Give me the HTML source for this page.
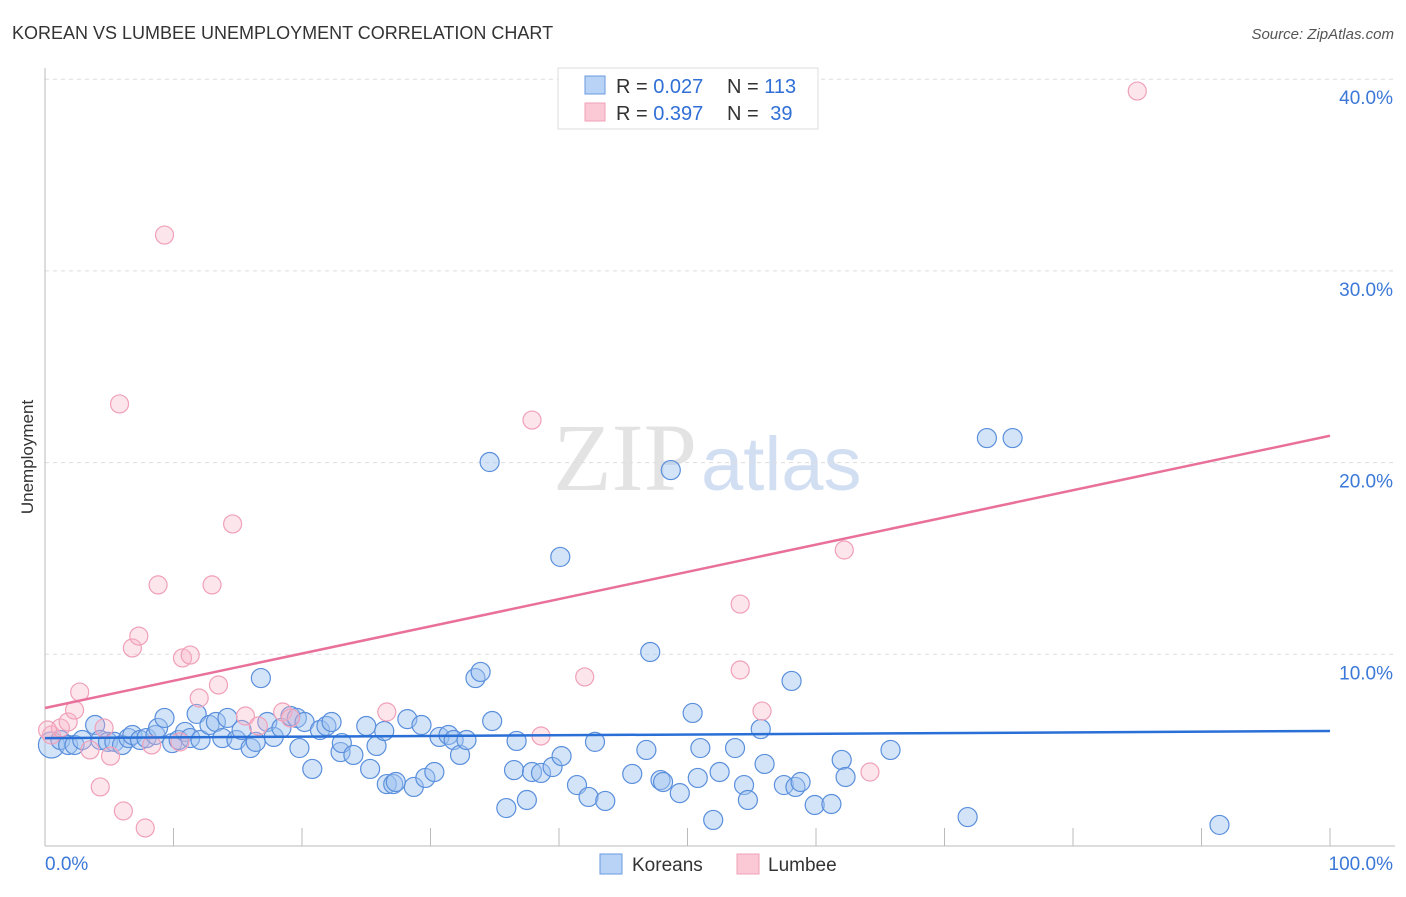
<!DOCTYPE html>
<html><head><meta charset="utf-8"><style>
body{margin:0;background:#fff;font-family:"Liberation Sans",sans-serif;}
svg text{font-family:"Liberation Sans",sans-serif;}
</style></head><body>
<svg id="chart" width="1406" height="892" xmlns="http://www.w3.org/2000/svg">
<text x="12" y="39" font-size="18" fill="#333">KOREAN VS LUMBEE UNEMPLOYMENT CORRELATION CHART</text>
<text x="1394" y="39" font-size="15" fill="#555" text-anchor="end" font-style="italic">Source: ZipAtlas.com</text>
<text transform="translate(33,457) rotate(-90)" font-size="17" fill="#333" text-anchor="middle">Unemployment</text>
<text x="553" y="490" font-size="96" font-family="Liberation Serif" fill="#ddd" opacity="0.8"><tspan font-family="Liberation Serif">ZIP</tspan><tspan fill="#c8d8f0" font-family="Liberation Sans" font-size="76" dx="4">atlas</tspan></text>
<g id="grid"></g><g id="axes"></g><g id="marks"></g>
<g>
<rect x="558" y="68" width="260" height="61" fill="#fff" stroke="#ddd"/>
<rect x="585" y="76" width="20" height="18" fill="#b8d3f5" stroke="#6a9ae0"/>
<rect x="585" y="103" width="20" height="18" fill="#fbc8d6" stroke="#f0a0b8"/>
<text x="616" y="93" font-size="20" fill="#333">R = <tspan fill="#2f6fd6">0.027</tspan></text>
<text x="727" y="93" font-size="20" fill="#333">N = <tspan fill="#2f6fd6">113</tspan></text>
<text x="616" y="120" font-size="20" fill="#333">R = <tspan fill="#2f6fd6">0.397</tspan></text>
<text x="727" y="120" font-size="20" fill="#333">N = <tspan fill="#2f6fd6" dx="6">39</tspan></text>
</g>
<g>
<rect x="600" y="854" width="22" height="20" fill="#b8d3f5" stroke="#6a9ae0"/>
<text x="632" y="871" font-size="19" fill="#333">Koreans</text>
<rect x="737" y="854" width="22" height="20" fill="#fbc8d6" stroke="#f0a0b8"/>
<text x="768" y="871" font-size="19" fill="#333">Lumbee</text>
</g>
</svg>
<script>
const xTicks=[0,10,20,30,40,50,60,70,80,90,100];
const yTicks=[10,20,30,40];
const koreanX=[0.5,1.2,1.8,2.3,2.9,3.9,4.3,4.9,5.4,6.0,6.5,6.8,7.4,7.9,8.6,8.8,9.3,9.9,10.4,10.9,11.3,11.8,12.1,12.8,13.3,13.8,14.2,14.9,15.3,16.0,16.4,16.8,17.3,17.8,18.4,19.1,19.6,19.8,20.2,20.8,21.4,21.9,22.3,23.0,23.1,24.0,25.0,25.3,25.8,26.4,26.6,27.1,27.3,28.2,28.7,29.3,29.6,30.3,30.7,31.4,31.8,32.3,32.8,33.5,33.9,34.8,34.6,35.9,36.5,36.7,37.5,37.9,38.6,39.5,40.1,40.2,41.4,42.3,42.8,43.6,45.7,46.8,47.1,47.9,48.1,49.4,50.4,50.8,51.0,52.0,52.5,53.7,54.4,54.7,55.7,56.0,57.5,58.4,58.8,59.9,61.2,62.0,62.3,65.8,71.8,73.3,75.3,91.4,48.7,58.1];
const koreanY=[5.27,5.53,5.27,5.27,5.53,6.31,5.53,5.43,5.43,5.27,5.63,5.79,5.53,5.63,5.79,6.16,6.68,5.37,5.53,5.95,5.63,6.89,5.53,6.31,6.47,5.63,6.68,5.53,6.05,5.11,5.43,8.76,6.47,5.69,6.16,6.78,6.68,5.11,6.47,4.02,6.05,6.26,6.47,4.90,5.37,4.75,6.26,4.02,5.22,6.00,3.23,3.23,3.34,6.62,3.08,6.31,3.55,3.86,5.69,5.79,5.53,4.75,5.53,8.76,9.08,6.52,20.03,1.98,3.96,5.48,2.40,3.86,3.81,4.12,15.08,4.69,3.18,2.56,5.43,2.35,3.76,5.01,10.12,3.44,3.34,2.76,6.94,3.55,5.11,1.36,3.86,5.11,3.18,2.40,6.10,4.28,3.18,3.08,3.34,2.14,2.19,4.49,3.60,5.01,1.51,21.28,21.28,1.10,19.61,8.61];
const lumbeeX=[0.5,1.2,1.8,2.3,2.7,3.5,4.3,4.6,5.1,5.8,6.1,6.8,7.3,7.8,8.3,8.8,9.3,10.5,10.7,11.3,12.0,13.0,13.5,14.6,15.6,16.6,18.5,19.1,26.6,38.6,37.9,42.0,54.1,54.1,55.8,62.2,64.2,85.0,0.2];
const lumbeeY=[5.79,6.16,6.47,7.09,8.03,5.01,3.08,6.16,4.69,23.06,1.83,10.33,10.95,0.94,5.27,13.62,31.87,5.43,9.81,9.96,7.72,13.62,8.40,16.80,6.78,6.26,6.99,6.68,6.99,5.74,22.22,8.82,12.62,9.18,7.04,15.44,3.86,39.38,6.05];
const koreanTrend=[5.63,6.0];
const lumbeeTrend=[7.2,21.4];
const NS="http://www.w3.org/2000/svg";
const xs=v=>45+v*12.85, ys=v=>846-v*19.17;
function mk(tag,attrs,parent){const e=document.createElementNS(NS,tag);for(const k in attrs)e.setAttribute(k,attrs[k]);document.getElementById(parent).appendChild(e);return e;}
yTicks.forEach(t=>{
 const g=mk('line',{x1:45,x2:1395,y1:ys(t),y2:ys(t),stroke:'#ddd','stroke-dasharray':'4,4'},'grid');
 
 
 const l=mk('text',{x:1393,y:ys(t)+25,'font-size':19,fill:'#3b78d8','text-anchor':'end'},'grid');
 l.textContent=t.toFixed(1)+'%';
 
 
});
const ax=mk('line',{x1:45,x2:1395,y1:846,y2:846,stroke:'#bbb'},'axes');


const ay=mk('line',{x1:45,x2:45,y1:68,y2:846,stroke:'#bbb'},'axes');


xTicks.forEach(t=>{const k=mk('line',{x1:xs(t),x2:xs(t),y1:828,y2:846,stroke:'#bbb'},'axes');
 
 });
const l0=mk('text',{x:45,y:870,'font-size':19,fill:'#3b78d8'},'axes');l0.textContent='0.0%';


const l1=mk('text',{x:1393,y:870,'font-size':19,fill:'#3b78d8','text-anchor':'end'},'axes');l1.textContent='100.0%';


koreanX.forEach((x,i)=>{const c=mk('circle',{cx:xs(x),cy:ys(koreanY[i]),r:i==0?13:9.5,fill:'rgba(160,196,240,0.45)',stroke:'#5a8fdc','stroke-width':1.2},'marks');
 
 });
lumbeeX.forEach((x,i)=>{const c=mk('circle',{cx:xs(x),cy:ys(lumbeeY[i]),r:9,fill:'rgba(248,180,200,0.35)',stroke:'#f0a0b8','stroke-width':1.2},'marks');
 
 });
const t1=mk('line',{x1:xs(0),x2:xs(100),y1:ys(koreanTrend[0]),y2:ys(koreanTrend[1]),stroke:'#2a6fd6','stroke-width':2.5},'marks');


const t2=mk('line',{x1:xs(0),x2:xs(100),y1:ys(lumbeeTrend[0]),y2:ys(lumbeeTrend[1]),stroke:'#e8709a','stroke-width':2.5},'marks');


</script>
</body></html>
